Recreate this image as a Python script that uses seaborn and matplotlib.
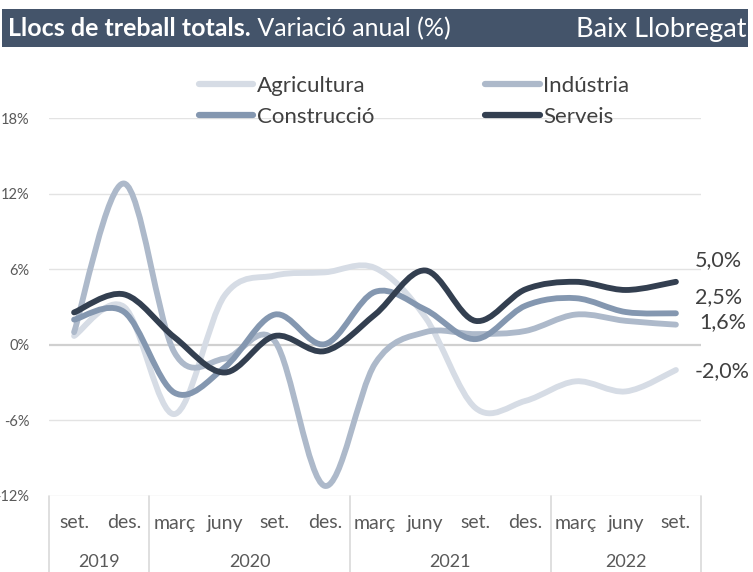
import numpy as np
import pandas as pd
import matplotlib
matplotlib.use("Agg")
import matplotlib.pyplot as plt
from matplotlib.path import Path
from matplotlib.patches import PathPatch, Rectangle
from matplotlib.lines import Line2D
import matplotlib.transforms as mtransforms
import seaborn as sns

# ---------------- data ----------------
months = ["set.", "des.", "març", "juny", "set.", "des.", "març", "juny", "set.", "des.", "març", "juny", "set."]
years = ["2019", "2020", "2021", "2022"]
year_counts = [2, 4, 4, 3]
agricultura = [0.7, 3.0, -5.5, 3.9, 5.5, 5.75, 6.1, 2.2, -5.0, -4.45, -2.9, -3.7, -2.0]
industria = [1.0, 12.8, -0.6, -1.1, 0.3, -11.2, -1.5, 1.0, 0.85, 1.1, 2.4, 1.9, 1.6]
construccio = [2.0, 2.6, -3.8, -1.8, 2.4, 0.05, 4.2, 2.8, 0.45, 3.1, 3.7, 2.6, 2.5]
serveis = [2.57, 4.0, 0.6, -2.2, 0.7, -0.5, 2.4, 5.9, 1.9, 4.4, 5.0, 4.35, 5.0]
series_names = ["Agricultura", "Indústria", "Construcció", "Serveis"]
end_labels = ["-2,0%", "1,6%", "2,5%", "5,0%"]
yticks = [-12, -6, 0, 6, 12, 18]
ytick_labels = ["-12%", "-6%", "0%", "6%", "12%", "18%"]
title_bold = "Llocs de treball totals."
title_rest = " Variació anual (%)"
title_right = "Baix Llobregat"

colors = {"Agricultura": "#D6DCE5", "Indústria": "#ADB9CA",
          "Construcció": "#8497B0", "Serveis": "#333F50"}

values = {"Agricultura": agricultura, "Indústria": industria,
          "Construcció": construccio, "Serveis": serveis}
rows = []
for name in series_names:
    for i, v in enumerate(values[name]):
        rows.append({"pos": i, "val": v, "serie": name})
df = pd.DataFrame(rows)

# ---------------- figure ----------------
sns.set_theme(style="white")
plt.rcParams["font.family"] = ["Lato", "DejaVu Sans"]

W, H = 753, 572
fig = plt.figure(figsize=(W / 100, H / 100), dpi=100)

def fx(px):
    return px / W

def fy(py):
    return 1 - py / H

ax_left, ax_right, ax_top, ax_bottom = 49, 701, 118, 496
ax = fig.add_axes([fx(ax_left), fy(ax_bottom), fx(ax_right - ax_left), (ax_bottom - ax_top) / H])

sns.lineplot(data=df, x="pos", y="val", hue="serie", hue_order=series_names,
             palette=colors, linewidth=4.2, legend=False, ax=ax, sort=False)

# smooth the seaborn lines (Excel-style smoothed lines, Catmull-Rom Bezier)
for z, line in enumerate(ax.get_lines()):
    xs = np.asarray(line.get_xdata(), float)
    ys = np.asarray(line.get_ydata(), float)
    pts = np.column_stack([xs, ys])
    n = len(pts)
    verts = [pts[0]]
    codes = [Path.MOVETO]
    for i in range(n - 1):
        p0 = pts[i - 1] if i > 0 else pts[i]
        p1 = pts[i]
        p2 = pts[i + 1]
        p3 = pts[i + 2] if i + 2 < n else pts[i + 1]
        c1 = p1 + (p2 - p0) / 6.0
        c2 = p2 - (p3 - p1) / 6.0
        verts += [c1, c2, p2]
        codes += [Path.CURVE4] * 3
    patch = PathPatch(Path(verts, codes), facecolor="none", edgecolor=line.get_color(),
                      linewidth=line.get_linewidth(), capstyle="round", joinstyle="round",
                      zorder=3 + z)
    ax.add_patch(patch)
    line.set_visible(False)

ax.set_xlim(-0.5, len(months) - 0.5)
ax.set_ylim(-12, 18)
ax.set_yticks(yticks)
ax.set_yticklabels(ytick_labels)
ax.tick_params(axis="y", length=0, pad=14, labelsize=10.5, labelcolor="#595959")
ax.set_xticks([])
ax.set_xlabel("")
ax.set_ylabel("")
for s in ax.spines.values():
    s.set_visible(False)
for t in yticks:
    ax.axhline(t, color="#E3E3E3" if t != 0 else "#D0D0D0",
               linewidth=1.0 if t != 0 else 1.6, zorder=1)

# category axis: months, years and separators
trans = mtransforms.blended_transform_factory(ax.transData, ax.transAxes)
axh = ax_bottom - ax_top
for i, m in enumerate(months):
    ax.text(i, -(523 - ax_bottom) / axh, m, transform=trans, ha="center", va="center",
            fontsize=14, color="#595959")
start = 0
bounds = [-0.5]
for yname, cnt in zip(years, year_counts):
    centre = start + (cnt - 1) / 2
    ax.text(centre, -(562 - ax_bottom) / axh, yname, transform=trans, ha="center",
            va="center", fontsize=13, color="#595959")
    start += cnt
    bounds.append(start - 0.5)
for b in bounds:
    ax.plot([b, b], [0, -(H - ax_bottom) / axh], transform=trans, color="#D9D9D9",
            linewidth=1.2, clip_on=False)

# end labels (offsets in pixels to mimic the reference placement)
label_dy = {"Agricultura": -1, "Indústria": 3, "Construcció": 16, "Serveis": 22}
label_dx = {"Agricultura": 19, "Indústria": 23, "Construcció": 19, "Serveis": 19}
for name, lab in zip(series_names, end_labels):
    v = values[name][-1]
    ax.annotate(lab, xy=(len(months) - 1, v),
                xytext=(label_dx[name] * 0.72, label_dy[name] * 0.72),
                textcoords="offset points", ha="left", va="center", fontsize=15.5,
                color="#404040", annotation_clip=False)

# ---------------- title bar ----------------
fig.patches.append(Rectangle((fx(2), fy(47)), fx(748 - 2), (47 - 9) / H,
                             transform=fig.transFigure, facecolor="#44546A",
                             edgecolor="none", zorder=0))
t1 = fig.text(fx(8), fy(29), title_bold, color="white", fontsize=18, fontweight="bold",
              ha="left", va="center")
fig.canvas.draw()
bb = t1.get_window_extent()
fig.text(bb.x1 / W, fy(29), title_rest, color="white", fontsize=18, ha="left", va="center")
fig.text(fx(747), fy(29), title_right, color="white", fontsize=19.5, ha="right", va="center")

# ---------------- legend ----------------
order = ["Agricultura", "Construcció", "Indústria", "Serveis"]
handles = [Line2D([0], [0], color=colors[n], linewidth=4.5) for n in order]
fig.legend(handles, order, ncol=2, frameon=False, fontsize=16, labelcolor="#404040",
           loc="upper left", bbox_to_anchor=(fx(199), fy(76)), handlelength=2.45,
           handletextpad=0.15, columnspacing=5.0, labelspacing=0.5, borderaxespad=0,
           borderpad=0)

fig.savefig("out.png", dpi=100)
